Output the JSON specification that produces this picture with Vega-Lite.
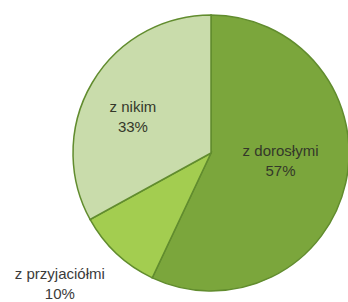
{
  "$schema": "https://vega.github.io/schema/vega-lite/v6.json",
  "autosize": "none",
  "width": 276,
  "height": 276,
  "padding": {"left": 73, "top": 15, "right": 0, "bottom": 11},
  "background": "white",
  "config": {"view": {"stroke": null}},
  "data": {
    "values": [
      {"cat": "z dorosłymi", "value": 57, "label": "z dorosłymi\n57%", "order": 1},
      {"cat": "z przyjaciółmi", "value": 10, "label": "z przyjaciółmi\n10%", "order": 2},
      {"cat": "z nikim", "value": 33, "label": "z nikim\n33%", "order": 3}
    ]
  },
  "encoding": {
    "theta": {"field": "value", "type": "quantitative", "stack": true},
    "order": {"field": "order", "type": "quantitative"}
  },
  "layer": [
    {
      "mark": {"type": "arc", "stroke": "#618c2e", "strokeWidth": 1.5},
      "encoding": {
        "color": {
          "field": "cat",
          "type": "nominal",
          "legend": null,
          "scale": {
            "domain": ["z dorosłymi", "z przyjaciółmi", "z nikim"],
            "range": ["#7ba63c", "#a3cd50", "#c9dcab"]
          }
        }
      }
    },
    {
      "mark": {"type": "text", "radius": 70, "thetaOffset": -0.105, "dy": -10, "lineBreak": "\n", "fontSize": 15, "font": "Liberation Sans", "fill": "#34382a", "align": "center", "baseline": "middle", "lineHeight": 20},
      "encoding": {
        "text": {"condition": {"test": "datum.cat !== 'z dorosłymi'", "value": ""}, "field": "label", "type": "nominal"}
      }
    },
    {
      "mark": {"type": "text", "radius": 86, "thetaOffset": -0.101, "dy": -10, "lineBreak": "\n", "fontSize": 15, "font": "Liberation Sans", "fill": "#34382a", "align": "center", "baseline": "middle", "lineHeight": 20},
      "encoding": {
        "text": {"condition": {"test": "datum.cat !== 'z nikim'", "value": ""}, "field": "label", "type": "nominal"}
      }
    },
    {
      "mark": {"type": "text", "radius": 200, "thetaOffset": 0.103, "dy": -10, "lineBreak": "\n", "fontSize": 15, "font": "Liberation Sans", "fill": "#3b3b3b", "align": "center", "baseline": "middle", "lineHeight": 20},
      "encoding": {
        "text": {"condition": {"test": "datum.cat !== 'z przyjaciółmi'", "value": ""}, "field": "label", "type": "nominal"}
      }
    }
  ]
}
